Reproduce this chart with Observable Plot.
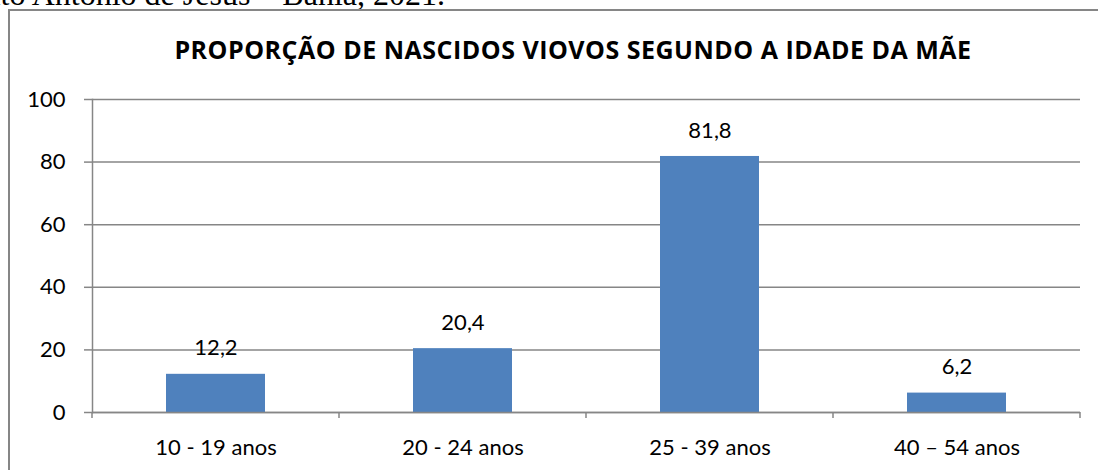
<!DOCTYPE html>
<html>
<head>
<meta charset="utf-8">
<script src="https://cdn.jsdelivr.net/npm/d3@7"></script>
<script src="https://cdn.jsdelivr.net/npm/@observablehq/plot@0.6"></script>
<style>
  html, body { margin: 0; padding: 0; background: #fff; }
  #wrap { position: relative; width: 1098px; height: 470px; overflow: hidden; background: #fff; }
  #caption { position: absolute; right: 653px; top: -22px; line-height: 32px; font-family: "Liberation Serif", serif; font-size: 32px; white-space: nowrap; color: #000; }
  #frame { position: absolute; left: 8px; top: 9px; width: 1200px; height: 600px; border-left: 2px solid #868686; border-top: 2px solid #868686; }
  #title { position: absolute; left: 0; top: 32px; width: 1146px; text-align: center; font-family: "Open Sans", sans-serif; font-weight: bold; font-size: 25px; letter-spacing: 0.5px; color: #000; }
  #chart { position: absolute; left: 0; top: 0; }
</style>
</head>
<body>
<div id="wrap">
  <div id="caption">Município de Santo Antônio de Jesus – Bahia, 2021.</div>
  <div id="frame"></div>
  <div id="title">PROPORÇÃO DE NASCIDOS VIOVOS SEGUNDO A IDADE DA MÃE</div>
  <div id="chart"></div>
</div>
<script>
const categories = ["10 - 19 anos", "20 - 24 anos", "25 - 39 anos", "40 – 54 anos"];
const values = [12.2, 20.4, 81.8, 6.2];
const valueLabels = ["12,2", "20,4", "81,8", "6,2"];
const yTicks = [0, 20, 40, 60, 80, 100];

const data = categories.map((c, i) => ({cat: c, value: values[i], label: valueLabels[i]}));
const gray = "#868686";
const font = "Lato, sans-serif";

function boundaryTicks(index, scales, values, dimensions) {
  const x = scales.x, y = scales.y;
  const xs = categories.map(c => x(c));
  const bw = x.bandwidth ? x.bandwidth() : 0;
  const step = xs.length > 1 ? xs[1] - xs[0] : bw;
  const centers = xs.map(v => v + bw / 2);
  const bounds = centers.map(c => c - step / 2).concat([centers[centers.length - 1] + step / 2]);
  const y0 = y(0);
  const g = d3.create("svg:g");
  g.selectAll("line").data(bounds).join("line")
    .attr("x1", d => d).attr("x2", d => d)
    .attr("y1", y0).attr("y2", y0 + 6)
    .attr("stroke", gray).attr("stroke-width", 1.5);
  return g.node();
}

const chart = Plot.plot({
  width: 1098,
  height: 470,
  marginLeft: 92,
  marginRight: 18,
  marginTop: 99,
  marginBottom: 58,
  style: {fontFamily: font, fontSize: "22px", color: "#000", background: "transparent"},
  x: {domain: categories, paddingInner: 0.6, paddingOuter: 0.3, label: null},
  y: {domain: [0, 100], label: null},
  marks: [
    Plot.gridY(yTicks, {stroke: gray, strokeOpacity: 1, strokeWidth: 1.5}),
    Plot.barY(data, {x: "cat", y: "value", fill: "#4F81BD"}),
    Plot.ruleY([0], {stroke: gray, strokeWidth: 1.5}),
    Plot.frame({anchor: "left", stroke: gray, strokeWidth: 1.5}),
    Plot.axisY({ticks: yTicks, tickSize: 8, tickPadding: 19, stroke: gray, strokeWidth: 1.5, fill: "#000", fontSize: 22, tickFormat: d => String(d)}),
    Plot.axisX({tickSize: 0, tickPadding: 27, fill: "#000", fontSize: 22}),
    boundaryTicks,
    Plot.text(data, {x: "cat", y: "value", text: "label", dy: -26, fill: "#000", fontSize: 22})
  ]
});
document.getElementById("chart").appendChild(chart);
</script>
</body>
</html>
